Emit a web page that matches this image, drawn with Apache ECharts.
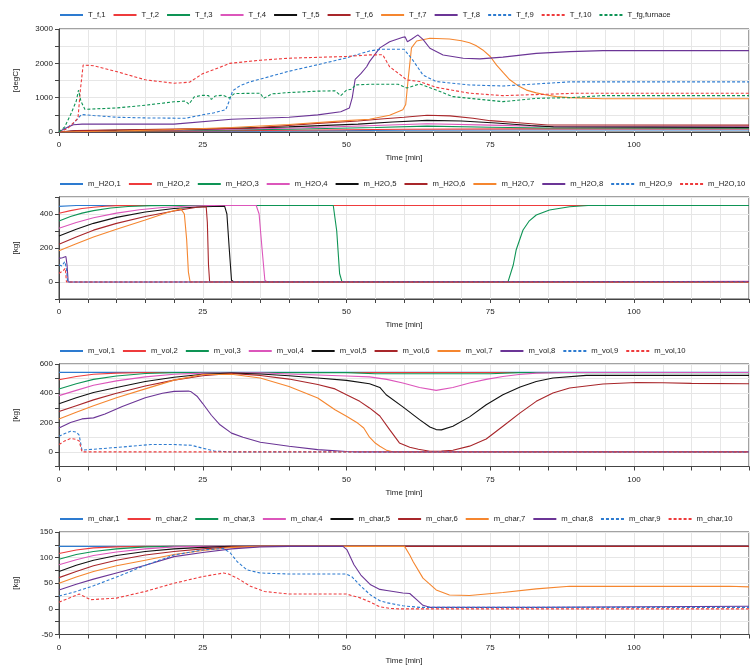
<!DOCTYPE html>
<html><head><meta charset="utf-8">
<script src="https://cdn.jsdelivr.net/npm/echarts@6/dist/echarts.min.js"></script>
<style>html,body{margin:0;padding:0;background:#fff}#c{width:755px;height:669px}</style>
</head><body><div id="c"></div>
<script>
// ---------- Panel 1: T_f [degC] ----------
const Tf1 = [[0,0],[20,15],[40,30],[60,50],[80,60],[120,60]];
const Tf2 = [[0,0],[20,25],[40,50],[60,80],[80,90],[120,90]];
const Tf3 = [[0,0],[3,20],[20,40],[40,80],[55,130],[64,170],[75,140],[85,115],[120,110]];
const Tf4 = [[0,0],[3,30],[20,55],[40,110],[55,190],[64,240],[75,200],[85,160],[120,150]];
const Tf5 = [[0,0],[3,35],[20,70],[40,150],[52,230],[58,290],[64,340],[70,320],[76,260],[82,190],[86,150],[120,135]];
const Tf6 = [[0,0],[3,40],[20,85],[33,110],[45,250],[52,320],[56,380],[60,430],[64,490],[68,470],[72,400],[75,330],[81,255],[85,205],[120,200]];
const Tf7 = [[0,0],[10,30],[20,70],[30,130],[40,220],[50,330],[54,370],[57.5,490],[59.8,650],[60.3,800],[60.7,1500],[61.3,2450],[62.2,2650],[64.5,2730],[67.9,2710],[70,2660],[71.4,2600],[72.5,2520],[73.7,2390],[75,2200],[76.1,1950],[77.3,1720],[78.4,1520],[80,1330],[81.3,1220],[83,1140],[84.8,1080],[86.5,1030],[88.8,1000],[94.6,970],[120,970]];
const Tf8 = [[0,0],[1,100],[2.5,210],[4,230],[20,230],[30,370],[40,430],[45,500],[49,590],[50.5,700],[51,1000],[51.5,1530],[52.5,1700],[53.5,1900],[54,2050],[55.8,2450],[57.5,2630],[59.8,2760],[60.2,2770],[60.6,2630],[61.3,2700],[62.4,2830],[63.3,2700],[64.5,2440],[66.8,2245],[70.3,2150],[73.2,2130],[77.2,2180],[83,2290],[88.8,2340],[94.6,2370],[120,2370]];
const Tf9 = [[0,0],[1,80],[2.5,250],[3.9,510],[6,480],[10,430],[15,410],[22,400],[25,500],[27,560],[29,650],[29.6,900],[30.2,1200],[31.5,1350],[33,1450],[35,1540],[40,1770],[45,1960],[50,2160],[54,2360],[56,2410],[60,2410],[61.5,2100],[63.3,1660],[65.6,1470],[71.4,1370],[77.2,1340],[88.8,1460],[120,1460]];
const Tf10 = [[0,0],[1.5,100],[3.3,400],[3.7,1200],[4.2,1950],[6,1930],[10,1760],[15,1520],[20,1420],[22.7,1450],[25,1700],[27,1820],[29.7,2000],[35,2090],[40,2150],[50,2200],[54,2245],[56.3,2250],[57.5,1900],[59.8,1610],[60.5,1515],[62.7,1470],[65.6,1300],[71.4,1130],[77.2,1060],[85,1100],[90,1130],[120,1130]];
const Tfg = [[0,0],[1,150],[2,500],[3,900],[3.4,1220],[3.8,900],[4.5,660],[10,700],[15,780],[20,880],[22,900],[22.6,810],[23.5,1020],[25,1070],[26,1060],[26.5,950],[27.2,1050],[28.5,1070],[29.6,990],[30.5,1120],[35,1130],[35.6,980],[37,1110],[40,1150],[45,1190],[48,1200],[49,1060],[50,1220],[51,1250],[51.5,1370],[54,1390],[59,1390],[60.5,1280],[62.7,1400],[65.6,1224],[68.5,1030],[74.3,933],[77.2,884],[83,980],[88.8,1000],[94.6,1060],[120,1060]];

// ---------- Panel 2: m_H2O [kg] ----------
const H1 = [[0,445],[3,450],[120,450]];
const H2 = [[0,404],[2,420],[4,432],[6,440],[8,446],[10,449],[14,450],[120,450]];
const H3 = [[0,359],[2,385],[4,405],[6,420],[9,435],[12,444],[16,449],[20,450],[47.7,450],[48.3,300],[48.8,50],[49.2,2],[78.1,2],[79,100],[79.5,188],[80.7,306],[81.8,360],[83,394],[85.3,424],[88.8,443],[92,450],[120,450]];
const H4 = [[0,316],[3,350],[6,378],[10,405],[14,425],[18,438],[22,446],[26,450],[34.3,450],[34.8,400],[35.3,200],[35.8,10],[36.2,0],[83,0],[83.1,4],[120,4]];
const H5 = [[0,270],[3,310],[6,345],[10,380],[15,412],[20,432],[25,443],[28.8,446],[29.2,400],[29.6,200],[30,10],[30.4,0],[120,0]];
const H6 = [[0,222],[3,265],[6,305],[10,345],[15,385],[20,418],[24,440],[25.6,443],[25.8,350],[26,100],[26.2,0],[120,0]];
const H7 = [[0,184],[3,225],[6,265],[10,310],[15,365],[19,410],[21.2,430],[21.8,400],[22.2,250],[22.5,60],[22.8,0],[120,0]];
const H8 = [[0,139],[0.6,143],[1.2,150],[1.4,100],[1.6,0],[12,0],[12.1,3],[120,3]];
const H9 = [[0,100],[0.5,95],[1,120],[1.3,80],[1.5,0],[120,0]];
const H10 = [[0,51],[0.7,65],[1.1,80],[1.3,0],[120,0]];

// ---------- Panel 3: m_vol [kg] ----------
const V1 = [[0,543],[120,543]];
const V2 = [[0,493],[3,515],[6,530],[10,538],[15,542],[120,542]];
const V3 = [[0,429],[3,465],[6,495],[10,518],[15,535],[20,541],[50,541],[55,533],[75,533],[80,541],[120,541]];
const V4 = [[0,384],[3,420],[6,455],[10,485],[15,512],[20,530],[25,538],[35,540],[40,532],[45,525],[50,518],[54,512],[57,495],[59.8,470],[62.7,440],[65.6,420],[68.5,440],[71.4,470],[74.3,495],[77.2,515],[80,528],[83,538],[88,542],[120,542]];
const V5 = [[0,329],[3,370],[6,405],[10,440],[15,480],[20,510],[25,530],[30,538],[35,532],[40,520],[45,504],[50,488],[54,465],[55.8,440],[56.9,390],[59.8,307],[62.7,220],[64.5,170],[65.6,152],[66.5,150],[68.5,175],[71.4,239],[74.3,322],[77.2,390],[80.2,443],[83,481],[85.9,504],[91.7,522],[120,522]];
const V6 = [[0,275],[3,315],[6,355],[10,400],[15,450],[20,490],[25,520],[30,535],[35,522],[40,497],[45,460],[48,430],[50,390],[52.3,345],[54,300],[55.8,245],[57.5,152],[59.2,61],[61,32],[62.5,18],[64.5,4],[66.5,5],[68.5,11],[71.4,39],[74.3,88],[77.2,175],[80.2,266],[83,345],[85.9,402],[88.8,436],[94.6,463],[100.4,474],[105,472],[110,468],[120,465]];
const V7 = [[0,225],[3,270],[6,315],[10,370],[15,430],[20,490],[25,528],[30,530],[35,504],[40,447],[45,368],[48,288],[50,243],[52,195],[53,163],[54,100],[55,60],[55.8,38],[57,10],[58,0],[120,0]];
const V8 = [[0,163],[2,200],[4,225],[6,232],[8,258],[11,310],[15,370],[18,400],[20,413],[22.5,415],[23,410],[24,380],[25,330],[26.5,250],[28,185],[30,128],[32,100],[35,66],[40,38],[45,15],[50,2],[52,0],[120,0]];
const V9 = [[0,106],[1,125],[2,141],[3,135],[3.5,115],[4,11],[5,15],[10,30],[16,50],[20,50],[23,45],[25,25],[27,5],[30,0],[120,0]];
const V10 = [[0,50],[1,75],[2,91],[3,85],[3.5,75],[4,0],[120,0]];

// ---------- Panel 4: m_char [kg] ----------
const C1 = [[0,122],[120,122]];
const C2 = [[0,108],[3,115],[6,119],[10,121],[15,122],[120,122]];
const C3 = [[0,97],[3,106],[6,112],[10,117],[15,121],[20,122],[120,122]];
const C4 = [[0,86],[3,96],[6,104],[10,111],[15,117],[20,121],[25,122],[120,122]];
const C5 = [[0,73],[3,85],[6,95],[10,104],[15,112],[20,117],[25,120],[30,122],[120,122]];
const C6 = [[0,61],[3,73],[6,84],[10,95],[15,105],[20,112],[25,117],[30,121],[35,122],[120,122]];
const C7 = [[0,50],[3,62],[6,73],[10,84],[15,95],[20,106],[25,114],[30,120],[35,122],[60.1,122],[61,105],[61.6,92],[63.3,60],[65.6,37],[67.9,27],[71.4,26],[77.2,32],[83,39],[88.8,44],[116.6,44],[120,43]];
const C8 = [[0,37],[3,48],[6,58],[10,70],[15,85],[20,102],[25,110],[30,117],[35,121],[40,122],[49.4,122],[50.1,115],[51.3,86],[52.5,66],[54.2,47],[55.8,38],[57,36],[59.8,31],[61,30],[62.2,18],[63.3,7],[64.5,3],[82,3],[82.1,5],[120,5]];
const C9 = [[0,25],[3,34],[6,45],[10,62],[15,85],[20,105],[25,115],[28.6,118],[29.8,109],[31,92],[32.7,76],[35,70],[40,68],[50,68],[51,62],[52.5,44],[54.2,27],[55.8,16],[57,12],[59.8,6],[62.7,3],[120,3]];
const C10 = [[0,13],[2,22],[3.5,29],[5.5,18],[10,21],[15,34],[20,50],[25,63],[28.6,70],[29.5,68],[31,60],[33.3,44],[35.7,34],[40,29],[50,29],[52.5,21],[54.2,13],[55.8,4],[57.5,1],[59,0],[120,0]];

const names1 = ['T_f,1','T_f,2','T_f,3','T_f,4','T_f,5','T_f,6','T_f,7','T_f,8','T_f,9','T_f,10','T_fg,furnace'];
const names2 = ['m_H2O,1','m_H2O,2','m_H2O,3','m_H2O,4','m_H2O,5','m_H2O,6','m_H2O,7','m_H2O,8','m_H2O,9','m_H2O,10'];
const names3 = ['m_vol,1','m_vol,2','m_vol,3','m_vol,4','m_vol,5','m_vol,6','m_vol,7','m_vol,8','m_vol,9','m_vol,10'];
const names4 = ['m_char,1','m_char,2','m_char,3','m_char,4','m_char,5','m_char,6','m_char,7','m_char,8','m_char,9','m_char,10'];
const data1 = [Tf1,Tf2,Tf3,Tf4,Tf5,Tf6,Tf7,Tf8,Tf9,Tf10,Tfg];
const data2 = [H1,H2,H3,H4,H5,H6,H7,H8,H9,H10];
const data3 = [V1,V2,V3,V4,V5,V6,V7,V8,V9,V10];
const data4 = [C1,C2,C3,C4,C5,C6,C7,C8,C9,C10];

const colors = ['#2d7bd0','#ee3b3c','#0e9455','#dc56bb','#111111','#a8262a','#f5862f','#6b3596','#2d7bd0','#ee3b3c','#0e9455'];
const dashedIdx = [8,9,10];

const FONT = 'Liberation Sans, Arial, sans-serif';
const gridTops = [29,197,364,532];
const gridH = [103,102,102.5,102.5];
const legendTops = [11,180,347,515];
const yCfg = [
  {min:0,max:3000,interval:500,lab:1000,name:'[degC]'},
  {min:-100,max:500,interval:100,lab:200,name:'[kg]'},
  {min:-100,max:600,interval:100,lab:200,name:'[kg]'},
  {min:-50,max:150,interval:25,lab:50,name:'[kg]'}
];
const allNames = [names1,names2,names3,names4];
const allData = [data1,data2,data3,data4];

const grid=[],xAxis=[],yAxis=[],legend=[],series=[];
for(let p=0;p<4;p++){
  grid.push({left:59,right:6,top:gridTops[p],height:gridH[p],show:true,borderColor:'#444',borderWidth:1,backgroundColor:'transparent'});
  xAxis.push({type:'value',gridIndex:p,min:0,max:120,interval:5,
    name:'Time [min]',nameLocation:'middle',nameGap:22,
    nameTextStyle:{fontFamily:FONT,fontSize:8,color:'#222'},
    axisLine:{show:true,onZero:false,lineStyle:{color:'#444'}},
    axisTick:{show:true,length:4,lineStyle:{color:'#444'}},
    axisLabel:{fontFamily:FONT,fontSize:8,color:'#222',margin:9,formatter:v=>(v%25===0?String(v):'')},
    splitLine:{show:true,lineStyle:{color:'#e6e6e6',width:1}}});
  const yc=yCfg[p];
  yAxis.push({type:'value',gridIndex:p,min:yc.min,max:yc.max,interval:yc.interval,
    name:yc.name,nameLocation:'middle',nameGap:39,
    nameTextStyle:{fontFamily:FONT,fontSize:8,color:'#222'},
    axisLine:{show:true,onZero:false,lineStyle:{color:'#444'}},
    axisTick:{show:true,length:4,lineStyle:{color:'#444'}},
    axisLabel:{fontFamily:FONT,fontSize:8,color:'#222',margin:6,formatter:v=>(v%yc.lab===0?String(v):'')},
    splitLine:{show:true,lineStyle:{color:'#e6e6e6',width:1}}});
  legend.push({data:allNames[p],left:59,top:legendTops[p],width:696,padding:0,itemWidth:23,itemHeight:10,itemGap:7,
    itemStyle:{opacity:0},
    textStyle:{fontFamily:FONT,fontSize:7.7,color:'#222'},selectedMode:false});
  allNames[p].forEach((n,i)=>{
    series.push({name:n,type:'line',xAxisIndex:p,yAxisIndex:p,data:allData[p][i],
      symbol:'none',showSymbol:false,silent:true,
      lineStyle:{color:colors[i],width:1.1,type:dashedIdx.includes(i)?[3,2]:'solid'},
      itemStyle:{color:colors[i]}});
  });
}
const chart = echarts.init(document.getElementById('c'),null,{renderer:'canvas'});
chart.setOption({animation:false,grid,xAxis,yAxis,legend,series});
</script></body></html>
